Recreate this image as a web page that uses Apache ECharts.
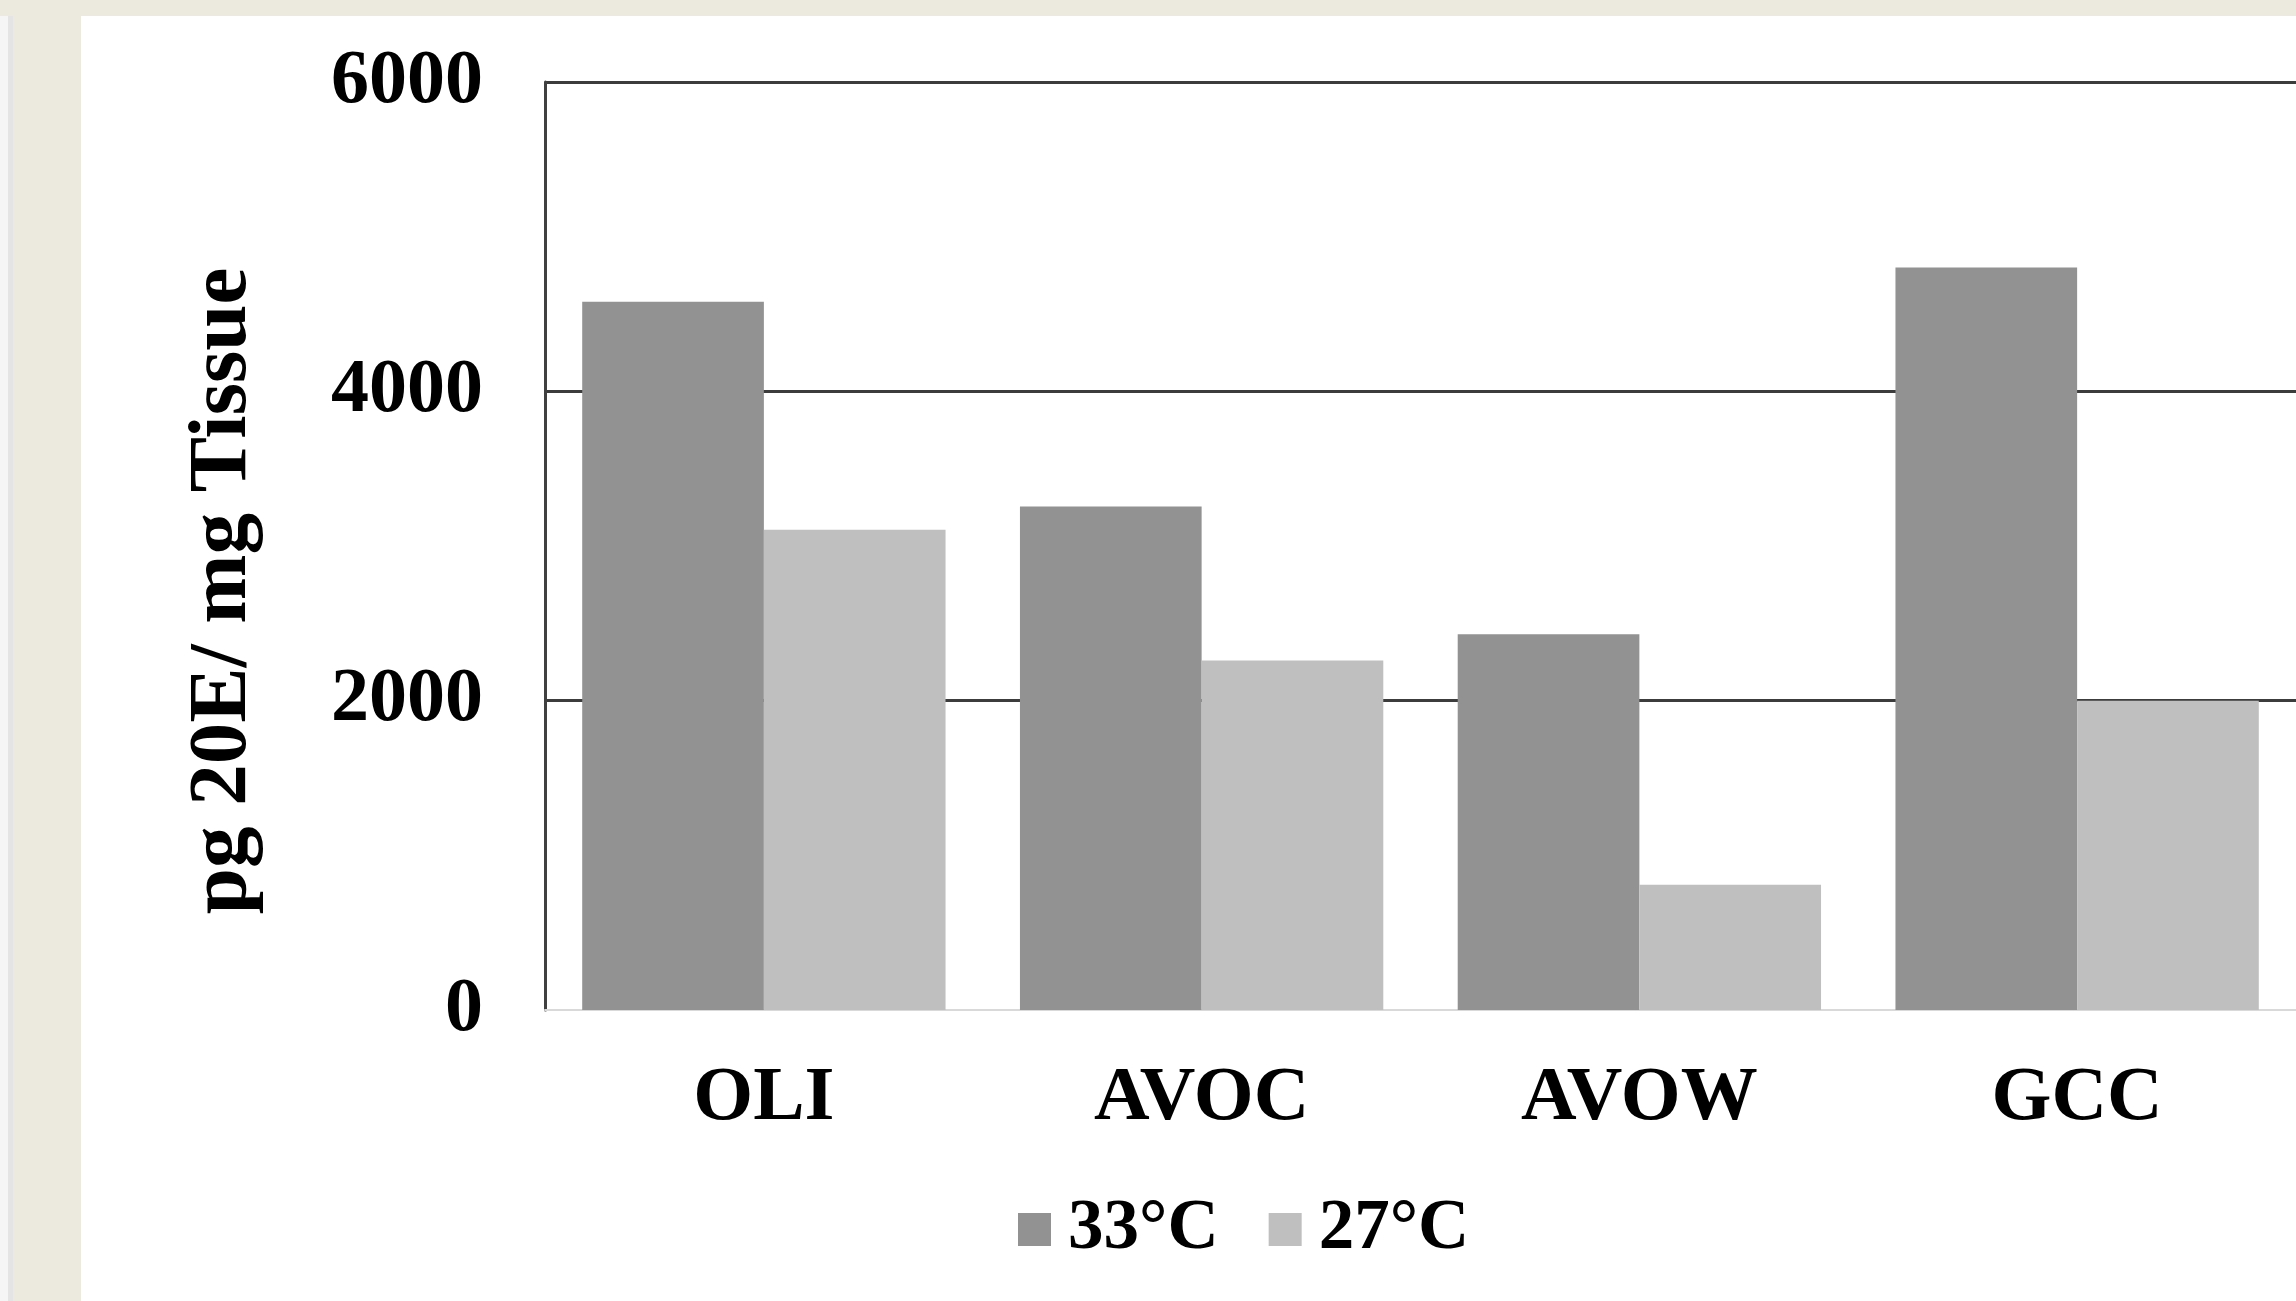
<!DOCTYPE html>
<html>
<head>
<meta charset="utf-8">
<script src="https://cdn.jsdelivr.net/npm/echarts@6/dist/echarts.min.js"></script>
<style>
  html, body { margin: 0; padding: 0; width: 2296px; height: 1301px; overflow: hidden; background: #ECE9DF; }
  #strip { position: absolute; left: 0; top: 16px; width: 8px; height: 1285px; background: #F5F5F5; border-right: 5px solid #E4E4E4; }
  #chart { position: absolute; left: 81px; top: 16px; width: 2215px; height: 1285px; background: #FFFFFF; }
</style>
</head>
<body>
<div id="strip"></div>
<div id="chart"></div>
<script>
// ---- data ----
const categories = ['OLI', 'AVOC', 'AVOW', 'GCC'];
const seriesNames = ['33°C', '27°C'];
const values33 = [4580, 3255, 2430, 4800];
const values27 = [3105, 2260, 810, 2000];
const yTicks = [0, 2000, 4000, 6000];
const yAxisTitle = 'pg 20E/ mg Tissue';

const FONT = "'Liberation Serif', 'Times New Roman', serif";
const chart = echarts.init(document.getElementById('chart'), null, { renderer: 'canvas' });
chart.setOption({
  animation: false,
  backgroundColor: '#FFFFFF',
  grid: { left: 464, top: 66, width: 1762, height: 928, containLabel: false },
  legend: {
    data: seriesNames,
    left: 932,
    top: 1173,
    icon: 'rect',
    itemWidth: 33,
    itemHeight: 33,
    itemGap: 50,
    textStyle: { fontFamily: FONT, fontWeight: 'bold', fontSize: 71, color: '#000', padding: [0, 0, 0, 12] }
  },
  xAxis: {
    type: 'category',
    data: categories,
    axisLine: { show: true, lineStyle: { color: '#D9D9D9', width: 2 } },
    axisTick: { show: false },
    axisLabel: { margin: 51, fontFamily: FONT, fontWeight: 'bold', fontSize: 77, color: '#000' }
  },
  yAxis: {
    type: 'value',
    min: yTicks[0],
    max: yTicks[yTicks.length - 1],
    interval: yTicks[1] - yTicks[0],
    name: yAxisTitle,
    nameLocation: 'middle',
    nameRotate: 90,
    nameGap: 280,
    nameTextStyle: { fontFamily: FONT, fontWeight: 'bold', fontSize: 83, color: '#000', padding: [0, 90, 0, 0] },
    axisLine: { show: true, lineStyle: { color: '#404040', width: 3 } },
    axisTick: { show: false },
    axisLabel: { margin: 62, fontFamily: FONT, fontWeight: 'bold', fontSize: 76, color: '#000',
      formatter: function (v) { return String(v); } },
    splitLine: { show: true, showMinLine: false, lineStyle: { color: '#3C3C3C', width: 3 } }
  },
  series: [
    { name: seriesNames[0], type: 'bar', data: values33, barGap: '0%', barCategoryGap: '17%',
      itemStyle: { color: '#929292' } },
    { name: seriesNames[1], type: 'bar', data: values27, barGap: '0%', barCategoryGap: '17%',
      itemStyle: { color: '#BFBFBF' } }
  ]
});
</script>
</body>
</html>
